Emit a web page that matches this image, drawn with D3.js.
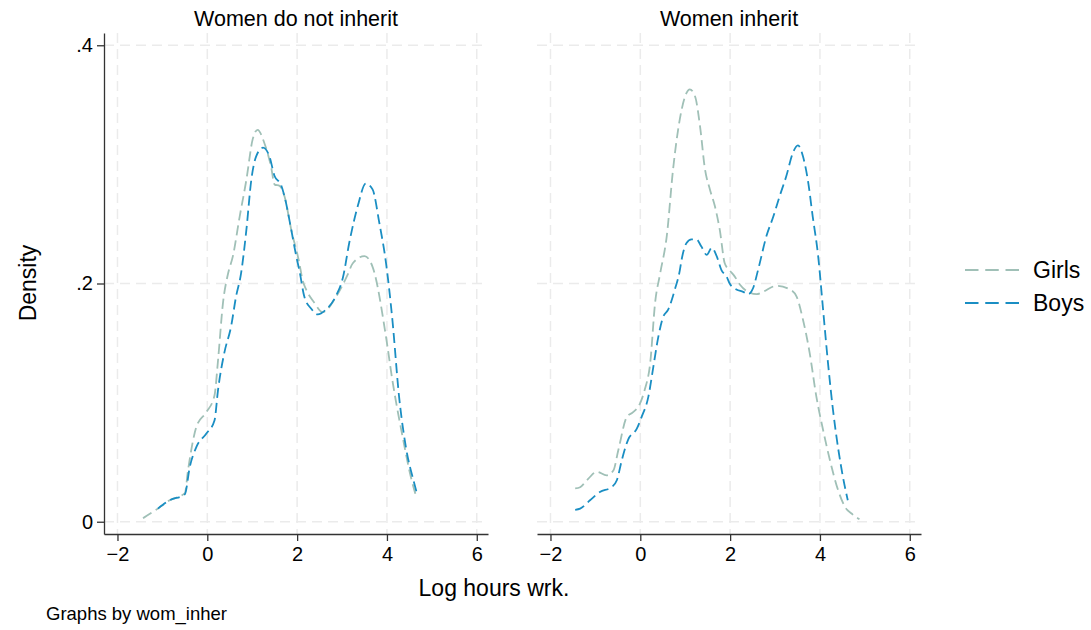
<!DOCTYPE html>
<html lang="en">
  <head>
    <meta charset="utf-8">
    <script src="https://d3js.org/d3.v7.min.js"></script>
    <style>
      body { margin: 0; background: #fff; }
      text { font-family: "Liberation Sans", Arial, Helvetica, sans-serif; fill: #000; }
    </style>
  </head>
  <body>
    <svg width="1091" height="630"></svg>
    <script>
      // Data: [log hours, density]
      var panels = ["Women do not inherit", "Women inherit"];
      var seriesNames = ["Girls", "Boys"];
      var xTicks = [-2, 0, 2, 4, 6];
      var yTicks = [0, 0.2, 0.4];
      var yTickLabels = ["0", ".2", ".4"];

      var girlsNoInherit = [[-1.43,0.003],[-1.10,0.011],[-0.84,0.018],[-0.50,0.024],[-0.43,0.043],[-0.24,0.080],[-0.02,0.092],[0.16,0.106],[0.24,0.136],[0.35,0.184],[0.46,0.208],[0.57,0.223],[0.72,0.256],[0.87,0.287],[1.01,0.321],[1.12,0.329],[1.27,0.318],[1.42,0.298],[1.50,0.283],[1.61,0.282],[1.72,0.273],[1.87,0.245],[2.05,0.217],[2.12,0.203],[2.20,0.195],[2.38,0.184],[2.57,0.176],[2.87,0.189],[3.12,0.207],[3.24,0.217],[3.50,0.223],[3.68,0.214],[3.98,0.155],[4.12,0.119],[4.35,0.071],[4.53,0.038],[4.66,0.020]];
      var boysNoInherit = [[-1.10,0.011],[-0.84,0.018],[-0.50,0.023],[-0.39,0.046],[-0.24,0.063],[-0.02,0.074],[0.16,0.085],[0.24,0.111],[0.38,0.142],[0.53,0.164],[0.64,0.189],[0.75,0.208],[0.87,0.245],[0.98,0.287],[1.09,0.307],[1.24,0.314],[1.38,0.307],[1.50,0.290],[1.64,0.283],[1.72,0.273],[1.87,0.245],[1.98,0.223],[2.05,0.211],[2.16,0.189],[2.31,0.179],[2.46,0.174],[2.64,0.178],[2.87,0.190],[3.02,0.205],[3.16,0.234],[3.35,0.265],[3.53,0.284],[3.68,0.279],[3.83,0.251],[3.98,0.217],[4.12,0.170],[4.27,0.105],[4.42,0.063],[4.61,0.032],[4.68,0.022]];
      var girlsInherit = [[-1.45,0.028],[-1.34,0.029],[-1.16,0.036],[-0.97,0.042],[-0.75,0.039],[-0.60,0.043],[-0.49,0.060],[-0.30,0.088],[-0.16,0.092],[-0.01,0.099],[0.10,0.111],[0.22,0.133],[0.33,0.184],[0.44,0.208],[0.59,0.240],[0.73,0.296],[0.88,0.338],[1.03,0.360],[1.10,0.363],[1.22,0.357],[1.33,0.332],[1.44,0.296],[1.55,0.279],[1.66,0.265],[1.77,0.245],[1.88,0.217],[1.99,0.211],[2.10,0.206],[2.22,0.199],[2.40,0.193],[2.59,0.191],[2.73,0.193],[3.03,0.198],[3.33,0.195],[3.48,0.189],[3.62,0.170],[3.77,0.142],[3.92,0.105],[4.07,0.077],[4.22,0.052],[4.40,0.027],[4.55,0.013],[4.73,0.006],[4.88,0.002]];
      var boysInherit = [[-1.45,0.010],[-1.34,0.011],[-1.12,0.018],[-0.90,0.025],[-0.64,0.029],[-0.52,0.035],[-0.41,0.052],[-0.27,0.069],[-0.08,0.078],[0.03,0.088],[0.18,0.105],[0.29,0.130],[0.40,0.155],[0.51,0.172],[0.62,0.178],[0.77,0.195],[0.88,0.211],[0.92,0.220],[1.03,0.234],[1.14,0.237],[1.25,0.237],[1.36,0.231],[1.48,0.224],[1.59,0.230],[1.70,0.223],[1.81,0.211],[1.92,0.206],[1.99,0.200],[2.14,0.195],[2.29,0.193],[2.40,0.191],[2.51,0.196],[2.62,0.211],[2.81,0.240],[2.96,0.256],[3.10,0.273],[3.25,0.290],[3.40,0.310],[3.51,0.316],[3.62,0.307],[3.73,0.287],[3.84,0.256],[3.96,0.223],[4.07,0.178],[4.18,0.133],[4.29,0.094],[4.40,0.063],[4.51,0.038],[4.62,0.018]];

      var panelData = [[girlsNoInherit, boysNoInherit], [girlsInherit, boysInherit]];
      var colors = ["#a0c0b7", "#1a8ec3"];

      var svg = d3.select("svg");
      var panelLeft = [104, 537],
          panelW = 384,
          plotTop = 33,
          plotBottom = 534;

      var x = d3.scaleLinear().domain([-2.3, 6.25]).range([0, panelW]);
      var y = d3.scaleLinear().domain([-0.0103, 0.4103]).range([plotBottom, plotTop]);

      var line = d3.line()
        .x(function(d) { return x(d[0]); })
        .y(function(d) { return y(d[1]); })
        .curve(d3.curveMonotoneX);

      panels.forEach(function(title, i) {
        var g = svg.append("g").attr("transform", "translate(" + panelLeft[i] + ",0)");

        // grid
        g.selectAll(".vgrid").data(xTicks).enter().append("line")
          .attr("x1", function(d) { return x(d); }).attr("x2", function(d) { return x(d); })
          .attr("y1", plotTop).attr("y2", plotBottom)
          .attr("stroke", "#ebebeb").attr("stroke-width", 1.5).attr("stroke-dasharray", "10,6");
        g.selectAll(".hgrid").data(yTicks).enter().append("line")
          .attr("x1", 0).attr("x2", panelW)
          .attr("y1", function(d) { return y(d); }).attr("y2", function(d) { return y(d); })
          .attr("stroke", "#ebebeb").attr("stroke-width", 1.5).attr("stroke-dasharray", "10,6");

        // x axis
        var xAxis = g.append("g").attr("transform", "translate(0," + plotBottom + ")")
          .call(d3.axisBottom(x).tickValues(xTicks).tickSizeInner(7).tickSizeOuter(0).tickPadding(6));
        xAxis.attr("font-size", 20).attr("font-family", "Liberation Sans, Arial, sans-serif");
        xAxis.select(".domain").attr("stroke", "#333").attr("stroke-width", 1.3);
        xAxis.selectAll(".tick line").attr("stroke", "#333").attr("stroke-width", 1.3);
        xAxis.selectAll("text").attr("fill", "#000");

        if (i === 0) {
          var yAxis = g.append("g")
            .call(d3.axisLeft(y).tickValues(yTicks).tickFormat(function(d, k) { return yTickLabels[k]; })
              .tickSizeInner(7).tickSizeOuter(0).tickPadding(4));
          yAxis.attr("font-size", 20).attr("font-family", "Liberation Sans, Arial, sans-serif");
          yAxis.select(".domain").attr("stroke", "#333").attr("stroke-width", 1.3);
          yAxis.selectAll(".tick line").attr("stroke", "#333").attr("stroke-width", 1.3);
          yAxis.selectAll("text").attr("fill", "#000");
        }

        // curves
        g.selectAll(".curve").data(panelData[i]).enter().append("path")
          .attr("d", line)
          .attr("fill", "none")
          .attr("stroke", function(d, k) { return colors[k]; })
          .attr("stroke-width", 1.8)
          .attr("stroke-dasharray", "10,5");

        g.append("text")
          .attr("x", panelW / 2).attr("y", 26)
          .attr("text-anchor", "middle").attr("font-size", 21.5)
          .text(title);
      });

      // axis titles
      svg.append("text")
        .attr("transform", "translate(36,283) rotate(-90)")
        .attr("text-anchor", "middle").attr("font-size", 23)
        .text("Density");
      svg.append("text")
        .attr("x", 494).attr("y", 596)
        .attr("text-anchor", "middle").attr("font-size", 23)
        .text("Log hours wrk.");
      svg.append("text")
        .attr("x", 46).attr("y", 620)
        .attr("font-size", 18.5)
        .text("Graphs by wom_inher");

      // legend
      var legend = svg.append("g");
      seriesNames.forEach(function(name, k) {
        var ly = 270 + k * 33;
        legend.append("line")
          .attr("x1", 965).attr("x2", 1019).attr("y1", ly).attr("y2", ly)
          .attr("stroke", colors[k]).attr("stroke-width", 2)
          .attr("stroke-dasharray", "13.5,6.75");
        legend.append("text")
          .attr("x", 1033).attr("y", ly + 8)
          .attr("font-size", 23)
          .text(name);
      });
    </script>
  </body>
</html>
